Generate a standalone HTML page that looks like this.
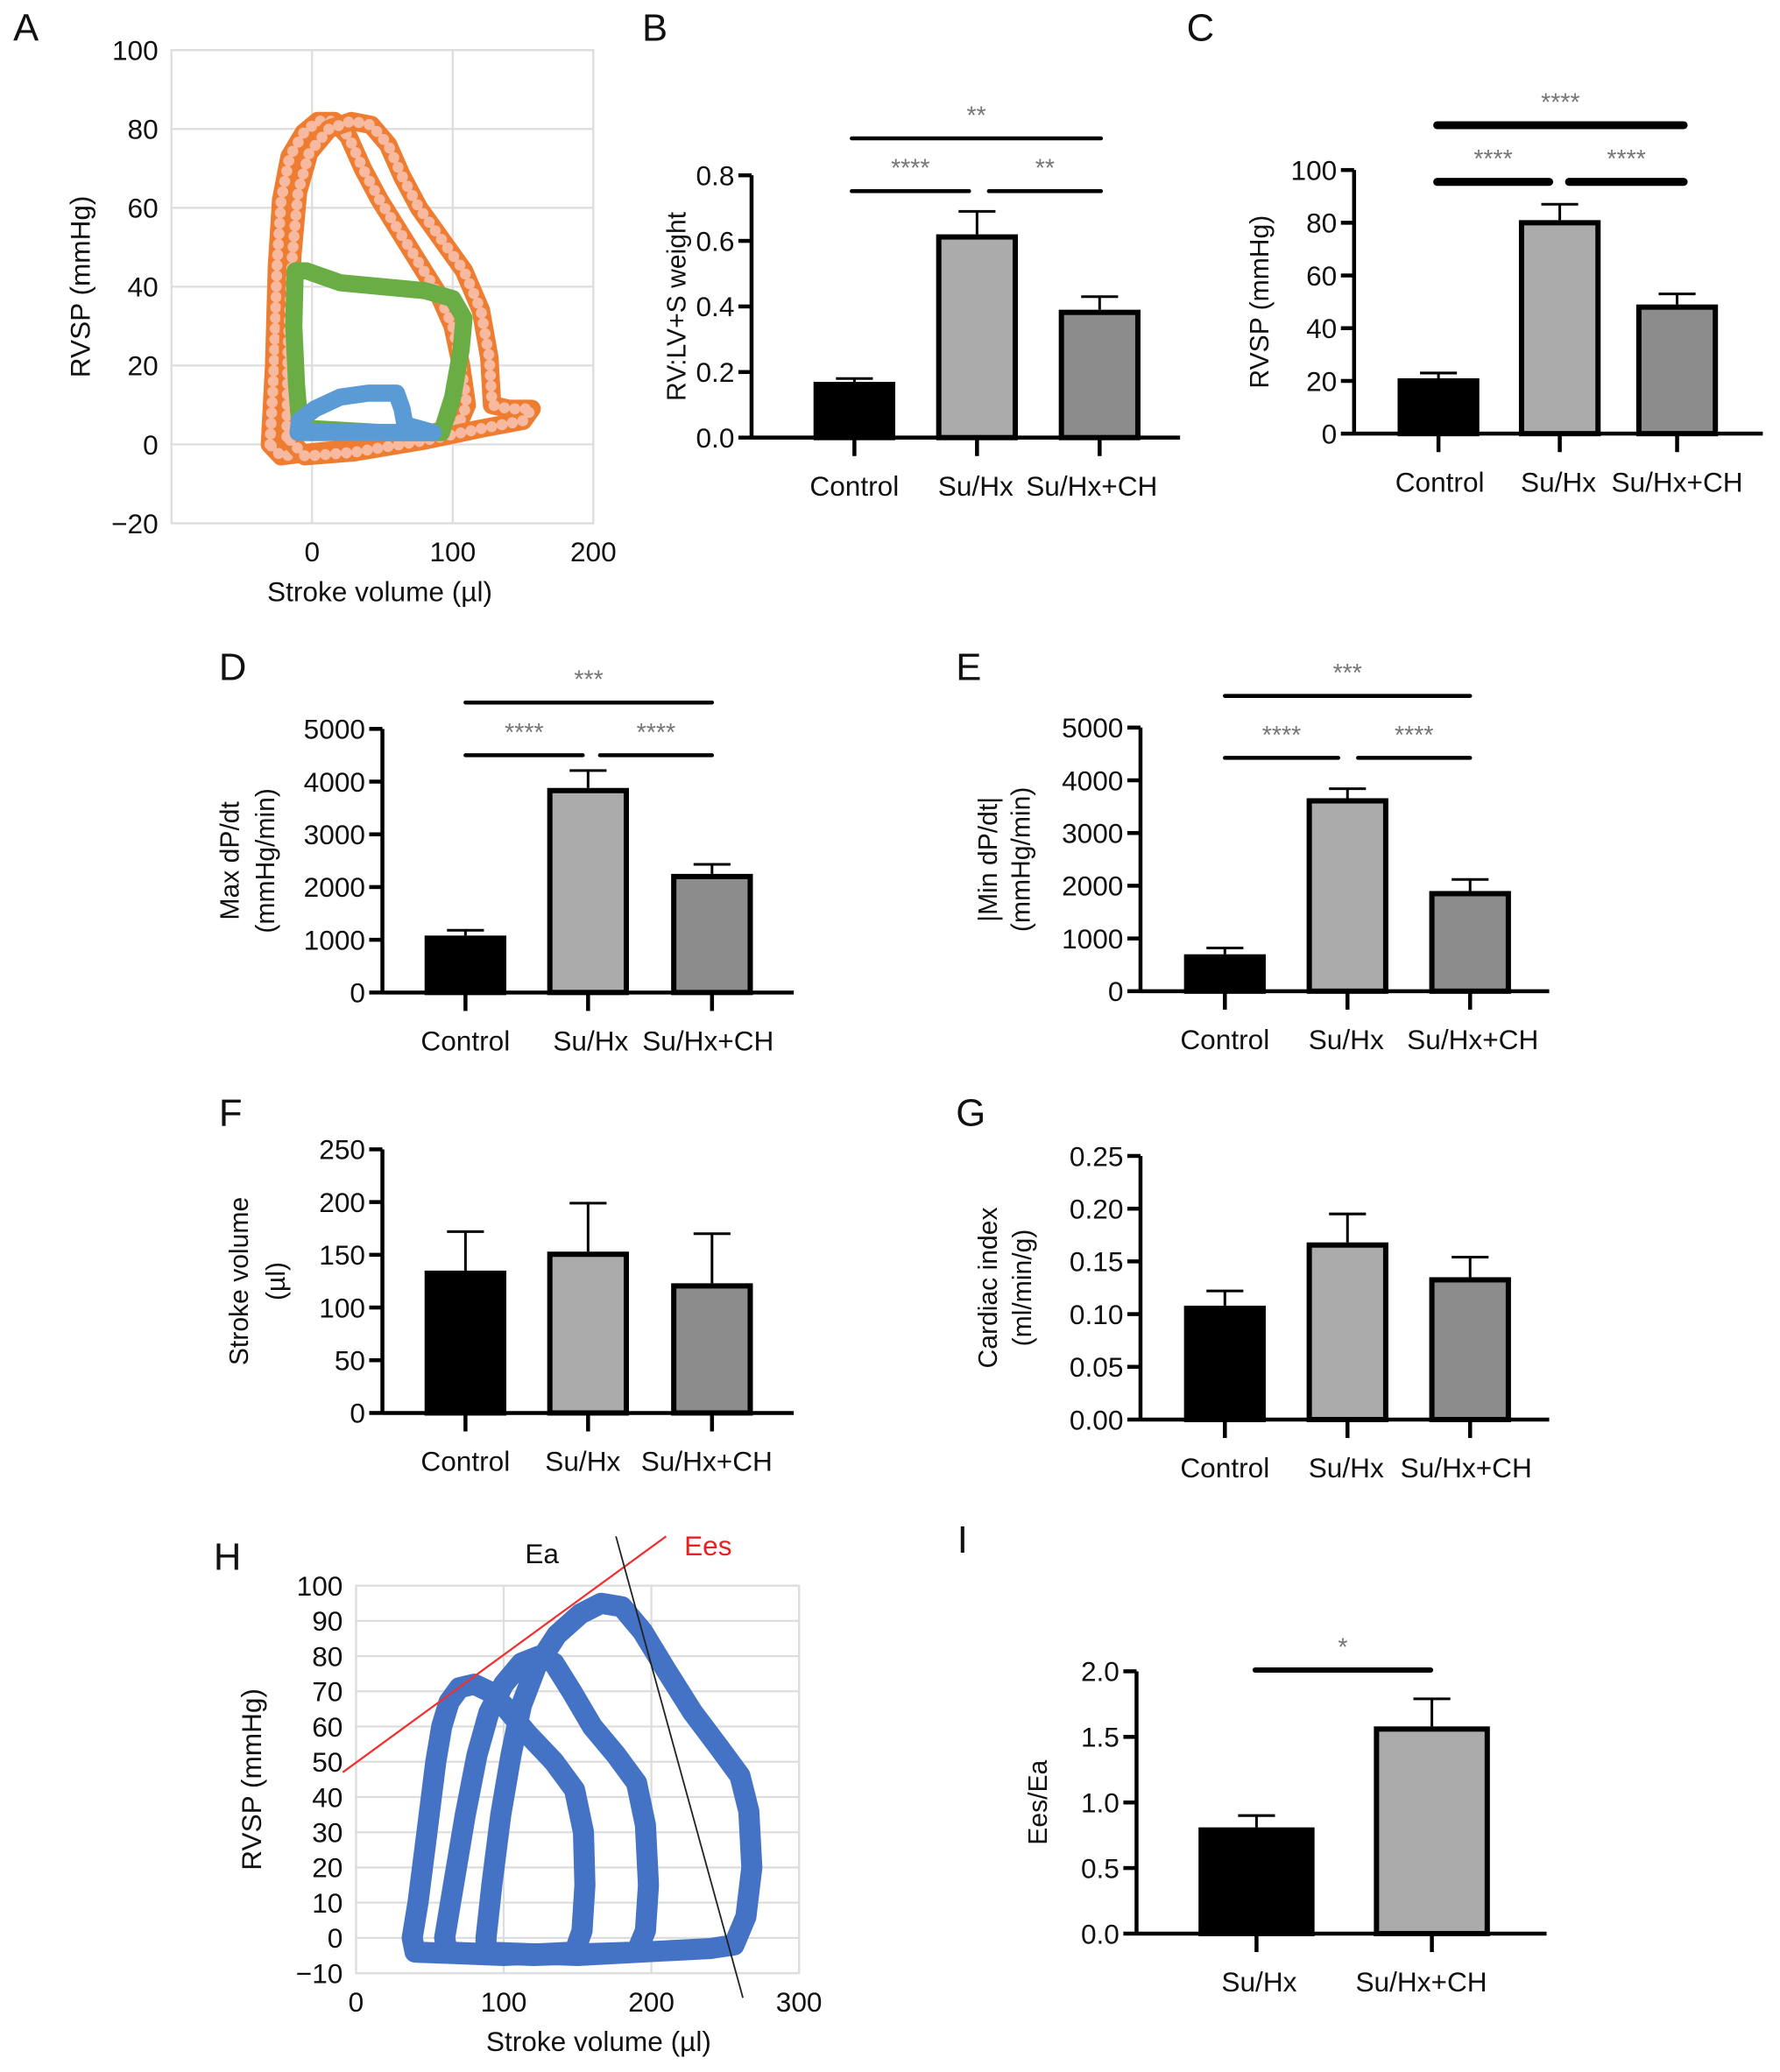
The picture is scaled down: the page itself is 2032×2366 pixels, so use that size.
<!DOCTYPE html>
<html><head><meta charset="utf-8"><style>
html,body{margin:0;padding:0;background:#fff}
svg{display:block;font-family:"Liberation Sans",sans-serif}
</style></head><body>
<svg id="fig" xmlns="http://www.w3.org/2000/svg" width="2032" height="2366" viewBox="0 0 1350 1572">
<rect width="1350" height="1572" fill="#fff"/>
<g id="root"></g>
</svg>
<script>
// ---------- data ----------
const groups3 = ["Control","Su/Hx","Su/Hx+CH"];
const groupsI = ["Su/Hx","Su/Hx+CH"];
const bMeans = [0.17,0.62,0.39];  const bErr = [0.01,0.07,0.04];
const cMeans = [21,81,49];        const cErr = [2,6,4];
const dMeans = [1080,3880,2250];  const dErr = [100,330,180];
const eMeans = [700,3660,1900];   const eErr = [120,180,220];
const fMeans = [135,153,123];     const fErr = [37,46,47];
const gMeans = [0.108,0.168,0.135]; const gErr = [0.014,0.027,0.019];
const iMeans = [0.81,1.58];       const iErr = [0.09,0.21];
const bTicks = ["0.0","0.2","0.4","0.6","0.8"];
const cTicks = ["0","20","40","60","80","100"];
const dTicks = ["0","1000","2000","3000","4000","5000"];
const fTicks = ["0","50","100","150","200","250"];
const gTicks = ["0.00","0.05","0.10","0.15","0.20","0.25"];
const iTicks = ["0.0","0.5","1.0","1.5","2.0"];
// PV loops panel A (x: stroke volume, y: RVSP)
const aOrange1 = [[-30,0],[-27,20],[-25,45],[-22,62],[-16,73],[-6,79],[4,82],[16,82],[26,78],[36,70],[48,62],[62,54],[76,46],[90,38],[100,30],[106,20],[110,10],[104,5],[70,1],[30,-1],[0,-2],[-22,-3],[-30,0]];
const aOrange2 = [[-18,2],[-17,25],[-14,48],[-10,64],[-2,74],[12,80],[28,82],[42,81],[54,76],[64,68],[76,60],[92,52],[108,44],[120,34],[126,22],[128,10],[140,9],[156,9],[150,6],[120,4],[80,1],[30,-2],[-5,-3],[-18,2]];
const aGreen = [[-12,44],[-13,30],[-11,15],[-9,6],[0,4],[50,3],[92,3],[100,12],[106,24],[108,32],[100,37],[80,39],[50,40],[20,41],[-4,44],[-12,44]];
const aBlue = [[-10,3],[-9,6],[2,9],[20,12],[40,13],[60,13],[64,9],[66,5],[86,3],[40,3],[-10,3]];
// PV loops panel H
const hLoop1 = [[40,-4],[38,0],[42,10],[48,30],[54,50],[58,60],[63,67],[70,71],[80,72],[90,70],[100,66],[116,58],[134,50],[148,42],[154,30],[155,15],[153,2],[148,-4],[100,-5],[40,-4]];
const hLoop2 = [[62,-4],[60,0],[66,15],[74,35],[82,52],[90,64],[100,72],[112,78],[124,80],[134,78],[146,70],[160,60],[176,52],[190,44],[196,32],[198,15],[196,2],[190,-4],[120,-5],[62,-4]];
const hLoop3 = [[88,-4],[88,0],[92,15],[98,35],[105,52],[112,66],[122,77],[136,86],[152,92],[166,95],[180,94],[194,87],[210,76],[228,64],[246,54],[260,46],[266,36],[268,20],[264,6],[256,-2],[240,-3],[150,-5],[88,-4]];
const hEes = [[-9,47],[210,114]];
const hEa = [[176,114],[262,-17]];

// ---------- helpers ----------
const NS="http://www.w3.org/2000/svg";
const root=document.getElementById('root');
function mk(tag,attrs,parent){const e=document.createElementNS(NS,tag);for(const k in attrs)e.setAttribute(k,attrs[k]);(parent||root).appendChild(e);return e;}
function txt(s,x,y,size,anchor,parent,fill,rot){const t=mk('text',{x:x,y:y,'font-size':size,'text-anchor':anchor||'middle',fill:fill||'#111'},parent);if(rot)t.setAttribute('transform','rotate(-90 '+x+' '+y+')');t.textContent=s;return t;}

const fills=["#000","#ababab","#8c8c8c"];
function barChart(o){
  const g=mk('g',{});
  
  
  const vmax=o.vmax;
  const y=v=>o.y0-(v/vmax)*(o.y0-o.yTop);
  const ax=mk('line',{x1:o.ax,y1:o.y0,x2:o.ax,y2:o.yTop,stroke:'#000','stroke-width':3},g);
  
  const n=o.ticks.length;
  o.ticks.forEach((t,i)=>{const v=vmax*i/(n-1);const yy=y(v);
    mk('line',{x1:o.ax-10,y1:yy,x2:o.ax,y2:yy,stroke:'#000','stroke-width':3},g);
    const tl=txt(t,o.ax-13,yy+7.5,21,'end',g);
    });
  const xa=mk('line',{x1:o.ax,y1:o.y0,x2:o.axEnd,y2:o.y0,stroke:'#000','stroke-width':3},g);
  
  o.means.forEach((m,i)=>{const cx=o.cx[i];const w=o.bw;
    const top=y(m), et=y(m+o.err[i]);
    mk('line',{x1:cx,y1:top,x2:cx,y2:et,stroke:'#000','stroke-width':2},g);
    mk('line',{x1:cx-14,y1:et,x2:cx+14,y2:et,stroke:'#000','stroke-width':2},g);
    const r=mk('rect',{x:cx-w/2+2,y:top+2,width:w-4,height:Math.max(0,o.y0-top-2),fill:fills[i],stroke:'#000','stroke-width':4},g);
    
    
    mk('line',{x1:cx,y1:o.y0,x2:cx,y2:o.y0+14,stroke:'#000','stroke-width':3},g);
    const cl=txt(o.cats[i],o.lx?o.lx[i]:cx,o.y0+44,21,'middle',g);
    
  });
  o.ylab.forEach((l,i)=>{const t=txt(l,o.ylx[i],(o.y0+o.yTop)/2,20,'middle',g,'#111',true);
    });
  (o.sig||[]).forEach(s=>{const l=mk('line',{x1:s[0],y1:s[2],x2:s[1],y2:s[2],stroke:'#000','stroke-width':s[4]||4,'stroke-linecap':'round'},g);
    
    const st=txt(s[3],(s[0]+s[1])/2,s[2]-11,19,'middle',g,'#777');
    });
}

// ---------- panel letters ----------
[["A",10,31],["B",487,31],["C",900,31],["D",166,516],["E",725,516],["F",166,854],["G",725,854],["H",162,1191],["I",726,1178]].forEach(p=>{
  const t=txt(p[0],p[1],p[2],29,'start');});

// ---------- bar charts ----------
barChart({name:'panel-b-chart',ax:570,axEnd:895,y0:332,yTop:133,vmax:0.8,ticks:bTicks,cats:groups3,means:bMeans,err:bErr,cx:[648,741,834],bw:62,ylab:["RV:LV+S weight"],ylx:[520],lx:[648,740,828],
  sig:[[646,835,105,"**",3],[646,735,145,"****",3],[750,835,145,"**",3]]});
barChart({name:'panel-c-chart',ax:1027,axEnd:1337,y0:329,yTop:129,vmax:100,ticks:cTicks,cats:groups3,means:cMeans,err:cErr,cx:[1091,1183,1272],bw:62,ylab:["RVSP (mmHg)"],ylx:[962],lx:[1092,1182,1272],
  sig:[[1090,1277,95,"****",6],[1090,1175,138,"****",6],[1190,1277,138,"****",6]]});
barChart({name:'panel-d-chart',ax:290,axEnd:602,y0:753,yTop:553,vmax:5000,ticks:dTicks,cats:groups3,means:dMeans,err:dErr,cx:[353,446,540],bw:62,ylab:["Max dP/dt","(mmHg/min)"],ylx:[181,208],lx:[353,448,537],
  sig:[[353,540,533,"***",3],[353,442,573,"****",3],[455,540,573,"****",3]]});
barChart({name:'panel-e-chart',ax:865,axEnd:1175,y0:752,yTop:552,vmax:5000,ticks:dTicks,cats:groups3,means:eMeans,err:eErr,cx:[929,1022,1115],bw:62,ylab:["|Min dP/dt|","(mmHg/min)"],ylx:[756,781],lx:[929,1021,1117],
  sig:[[929,1115,528,"***",3],[929,1015,575,"****",3],[1030,1115,575,"****",3]]});
barChart({name:'panel-f-chart',ax:290,axEnd:602,y0:1072,yTop:872,vmax:250,ticks:fTicks,cats:groups3,means:fMeans,err:fErr,cx:[353,446,540],bw:62,ylab:["Stroke volume","(µl)"],ylx:[188,216],lx:[353,442,536]});
barChart({name:'panel-g-chart',ax:865,axEnd:1175,y0:1077,yTop:877,vmax:0.25,ticks:gTicks,cats:groups3,means:gMeans,err:gErr,cx:[929,1022,1115],bw:62,ylab:["Cardiac index","(ml/min/g)"],ylx:[756,782],lx:[929,1021,1112]});
barChart({name:'panel-i-chart',ax:862,axEnd:1173,y0:1467,yTop:1268,vmax:2.0,ticks:iTicks,cats:groupsI,means:iMeans,err:iErr,cx:[953,1086],bw:88,ylab:["Ees/Ea"],ylx:[794],lx:[955,1078],
  sig:[[952,1085,1267,"*",4]]});

// ---------- PV loop charts ----------
function pvChart(o){
  const g=mk('g',{});
  
  
  const sx=v=>o.L+(v-o.xmin)/(o.xmax-o.xmin)*(o.R-o.L);
  const sy=v=>o.B-(v-o.ymin)/(o.ymax-o.ymin)*(o.B-o.T);
  mk('rect',{x:o.L,y:o.T,width:o.R-o.L,height:o.B-o.T,fill:'none',stroke:'#ddd','stroke-width':1.5},g);
  o.yt.forEach(v=>{mk('line',{x1:o.L,y1:sy(v),x2:o.R,y2:sy(v),stroke:'#ddd','stroke-width':1.5},g);
    const t=txt(String(v).replace('-','\u2212'),o.L-10,sy(v)+7.5,21,'end',g);});
  o.xt.forEach(v=>{mk('line',{x1:sx(v),y1:o.T,x2:sx(v),y2:o.B,stroke:'#ddd','stroke-width':1.5},g);
    const t=txt(String(v),sx(v),o.B+29,21,'middle',g);});
  const pts=a=>a.map(p=>sx(p[0]).toFixed(1)+','+sy(p[1]).toFixed(1)).join(' ');
  o.loops.forEach(l=>{
    const pl=mk('polyline',{points:pts(l.d),fill:'none',stroke:l.c,'stroke-width':l.w,'stroke-linejoin':'round','stroke-linecap':'round'},g);
    
    if(l.inner){mk('polyline',{points:pts(l.d),fill:'none',stroke:l.inner,'stroke-width':l.w*0.6,'stroke-linejoin':'round','stroke-linecap':'round','stroke-dasharray':'0 8'},g);}
  });
  const xl=txt("Stroke volume (µl)",o.xlx,o.B+59,21,'middle',g);
  const yl=txt("RVSP (mmHg)",o.ylx,(o.T+o.B)/2,21,'middle',g,'#111',true);
  return {g,sx,sy};
}
pvChart({name:'panel-a-pv-loop',L:130,R:450,T:38,B:397,xmin:-100,xmax:200,ymin:-20,ymax:100,yt:[-20,0,20,40,60,80,100],xt:[0,100,200],xlx:288,ylx:68,
  loops:[{n:'loop-orange-1',d:aOrange1,c:'#ee7d31',w:14,inner:'#f7b9a0'},{n:'loop-orange-2',d:aOrange2,c:'#ee7d31',w:14,inner:'#f7b9a0'},
         {n:'loop-green',d:aGreen,c:'#6aad45',w:13},{n:'loop-blue',d:aBlue,c:'#5b9bd5',w:13}]});
const H=pvChart({name:'panel-h-pv-loop',L:270,R:606,T:1203,B:1497,xmin:0,xmax:300,ymin:-10,ymax:100,yt:[-10,0,10,20,30,40,50,60,70,80,90,100],xt:[0,100,200,300],xlx:454,ylx:198,
  loops:[{n:'loop-1',d:hLoop1,c:'#4472c4',w:16},{n:'loop-2',d:hLoop2,c:'#4472c4',w:16},{n:'loop-3',d:hLoop3,c:'#4472c4',w:16}]});
const ees=mk('line',{x1:H.sx(hEes[0][0]),y1:H.sy(hEes[0][1]),x2:H.sx(hEes[1][0]),y2:H.sy(hEes[1][1]),stroke:'#f03030','stroke-width':1.5});

const ea=mk('line',{x1:H.sx(hEa[0][0]),y1:H.sy(hEa[0][1]),x2:H.sx(hEa[1][0]),y2:H.sy(hEa[1][1]),stroke:'#222','stroke-width':1.2});

const eal=txt("Ea",411,1186,21,'middle');
const eesl=txt("Ees",537,1180,21,'middle',root,'#e82020');
</script>
</body></html>
